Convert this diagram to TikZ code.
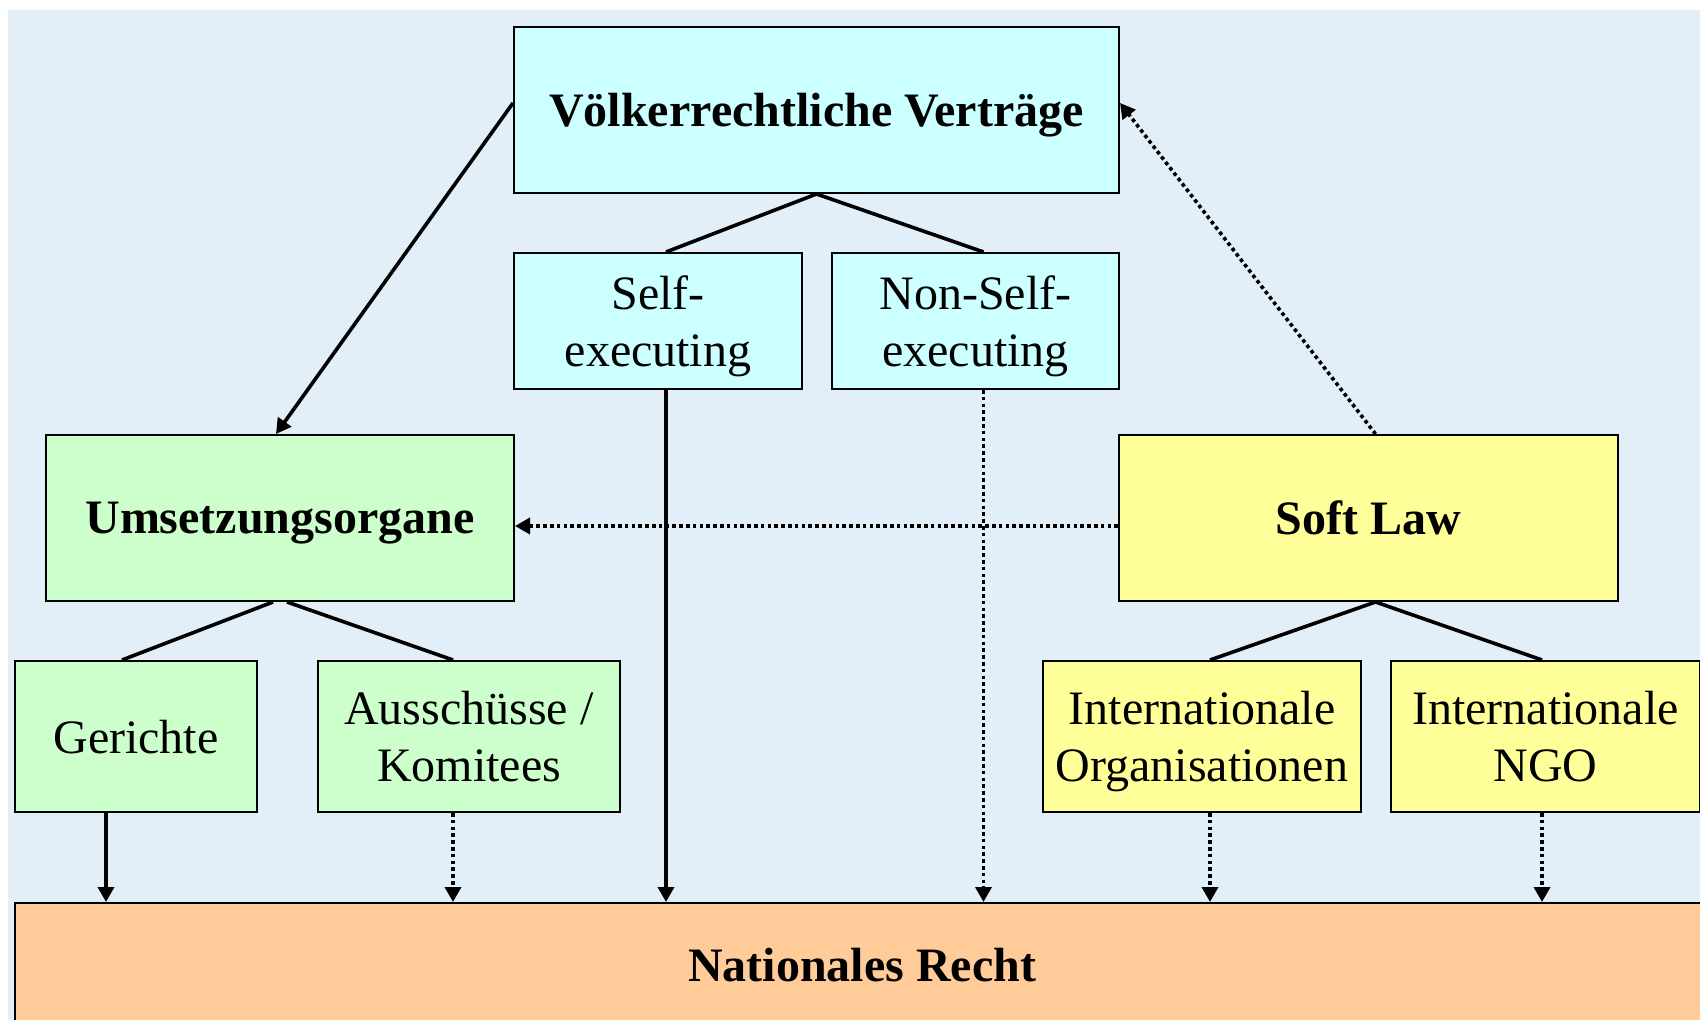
\documentclass[tikz,border=0pt]{standalone}
\usepackage{fontspec}
\setmainfont{Liberation Serif}
\usetikzlibrary{arrows.meta}

\definecolor{bgblue}{HTML}{E2EEF8}
\definecolor{treatycyan}{HTML}{CCFFFF}
\definecolor{organgreen}{HTML}{CCFFCC}
\definecolor{softyellow}{HTML}{FFFF99}
\definecolor{natorange}{HTML}{FFCC99}

\tikzset{
  box/.style={draw, line width=1pt, align=center, inner sep=0pt, text depth=0pt,
    font=\fontsize{24}{28.8}\selectfont},
  headbox/.style={box, font=\fontsize{24}{28.8}\selectfont\bfseries},
  link/.style={line width=1.8pt},
  arr/.style={link, -{Triangle[width=8pt,length=7.5pt]}},
  dotarr/.style={arr, dash pattern=on 1.8pt off 1.6pt},
}

\begin{document}
\begin{tikzpicture}[x=0.5pt, y=-0.5pt]
  % Canvas
  \clip (0,0) rectangle (1700,1020);
  \fill[white] (0,0) rectangle (1700,1020);
  \fill[bgblue] (7.6,10) rectangle (1700,1020);

  % Treaties
  \node[headbox, fill=treatycyan, minimum width=302.5pt, minimum height=83pt]
    (vv) at (816.5,110) {Völkerrechtliche Verträge};
  \node[box, fill=treatycyan, minimum width=144pt, minimum height=68pt]
    (self) at (658,321) {Self-\\executing};
  \node[box, fill=treatycyan, minimum width=143.5pt, minimum height=68pt]
    (nonself) at (975.5,321) {Non-Self-\\executing};

  % Implementation bodies
  \node[headbox, fill=organgreen, minimum width=234pt, minimum height=83pt]
    (umsetz) at (280,518) {Umsetzungsorgane};
  \node[box, fill=organgreen, minimum width=121pt, minimum height=75.5pt]
    (gericht) at (136,736.5) {Gerichte};
  \node[box, fill=organgreen, minimum width=151pt, minimum height=75.5pt]
    (ausschuss) at (469,736.5) {Ausschüsse /\\Komitees};

  % Soft law
  \node[headbox, fill=softyellow, minimum width=249.5pt, minimum height=83pt]
    (soft) at (1368.5,518) {Soft Law};
  \node[box, fill=softyellow, minimum width=159pt, minimum height=75.5pt]
    (intorg) at (1202,736.5) {Internationale\\Organisationen};
  \node[box, fill=softyellow, minimum width=154.5pt, minimum height=75.5pt]
    (ngo) at (1545.5,736.5) {Internationale\\NGO};

  % National law
  \node[headbox, fill=natorange, minimum width=847pt, minimum height=62pt]
    (nr) at (862,965) {Nationales Recht};

  % Tree links
  \draw[link] (vv.south) -- ([xshift=4pt]self.north);
  \draw[link] (vv.south) -- ([xshift=4pt]nonself.north);
  \draw[link] ([xshift=-3.5pt]umsetz.south) -- ([xshift=-7pt]gericht.north);
  \draw[link] ([xshift=3.5pt]umsetz.south) -- ([xshift=-8pt]ausschuss.north);
  \draw[link] ([xshift=3.5pt]soft.south) -- ([xshift=4pt]intorg.north);
  \draw[link] ([xshift=3.5pt]soft.south) -- ([xshift=-1.75pt]ngo.north);

  % Influences
  \draw[arr] ([yshift=3.5pt]vv.west) -- ([xshift=-2pt]umsetz.north);
  \draw[dotarr] ([xshift=3.5pt]soft.north) -- ([yshift=3.5pt]vv.east);
  \draw[dotarr] ([yshift=-4pt]soft.west) -- ([yshift=-4pt]umsetz.east);

  % Into national law
  \draw[arr] ([xshift=-15pt]gericht.south) -- ([xshift=-15pt]gericht.south |- nr.north);
  \draw[dotarr] ([xshift=-8pt]ausschuss.south) -- ([xshift=-8pt]ausschuss.south |- nr.north);
  \draw[arr] ([xshift=4pt]self.south) -- ([xshift=4pt]self.south |- nr.north);
  \draw[dotarr] ([xshift=4pt]nonself.south) -- ([xshift=4pt]nonself.south |- nr.north);
  \draw[dotarr] ([xshift=4pt]intorg.south) -- ([xshift=4pt]intorg.south |- nr.north);
  \draw[dotarr] ([xshift=-1.75pt]ngo.south) -- ([xshift=-1.75pt]ngo.south |- nr.north);
\end{tikzpicture}
\end{document}
